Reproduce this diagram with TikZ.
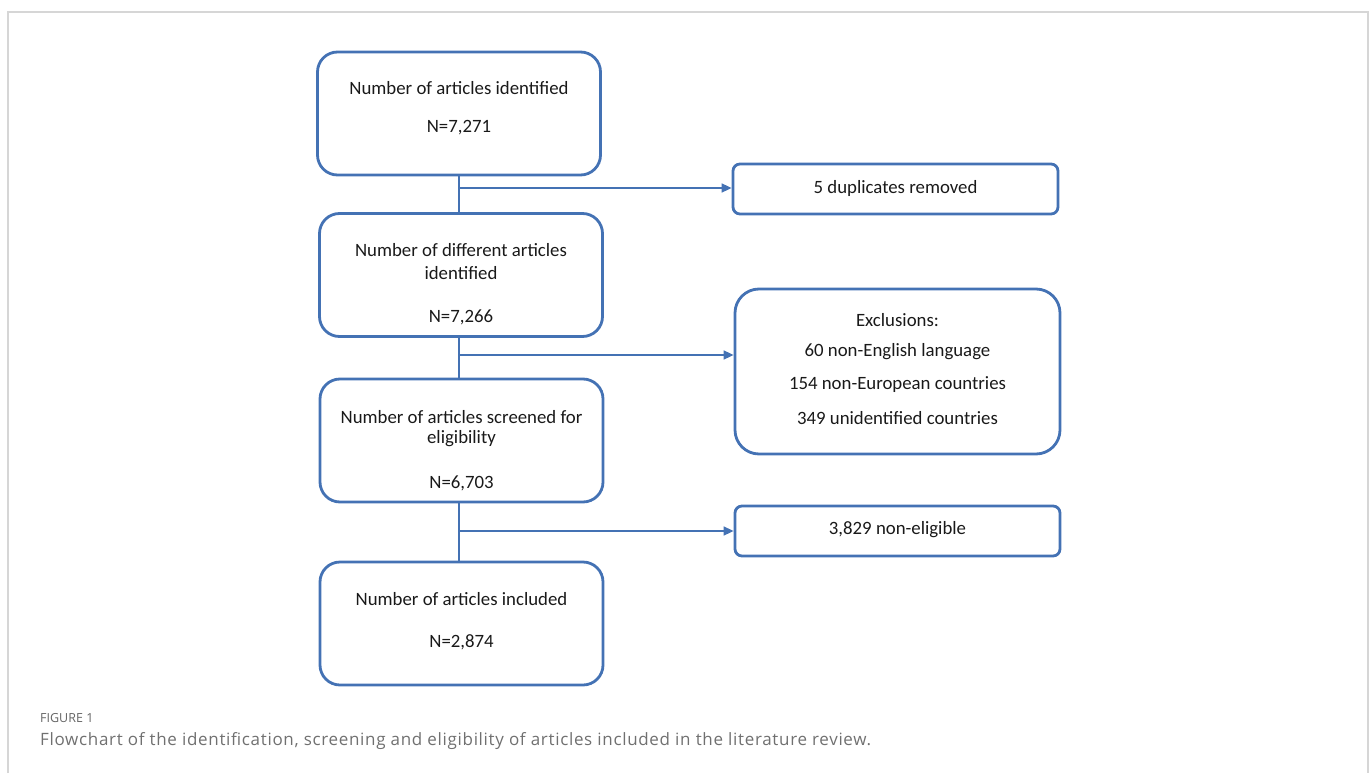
\documentclass[tikz,border=0pt]{standalone}
\usepackage{fontspec}
\setmainfont{Carlito}
\newfontfamily\capfont{Open Sans}
\newfontfamily\capfontwide[LetterSpace=4]{Open Sans}
\usetikzlibrary{arrows.meta}
\definecolor{boxblue}{HTML}{4472B4}
\definecolor{framegray}{HTML}{D6D6D6}
\definecolor{capgray}{HTML}{707070}
\tikzset{
  bigbox/.style={draw=boxblue,line width=2.8pt,rounded corners=20pt,minimum width=283pt,minimum height=123pt,inner sep=0pt},
  excbox/.style={draw=boxblue,line width=2.8pt,rounded corners=24pt,minimum width=325pt,minimum height=165pt,inner sep=0pt},
  smallbox/.style={draw=boxblue,line width=2.8pt,rounded corners=7pt,minimum width=325pt,minimum height=50pt,inner sep=0pt},
  txt/.style={font=\fontsize{18.8}{22}\selectfont,text=black!90,inner sep=0pt,anchor=center},
  conn/.style={draw=boxblue,line width=1.6pt},
  arr/.style={draw=boxblue,line width=1.6pt,-{Triangle[length=10pt,width=9pt]}},
}
\begin{document}
\begin{tikzpicture}[x=1pt,y=-1pt]
\useasboundingbox (0,0) rectangle (1372,773);
% frame
\draw[framegray,line width=1.6pt] (8,773) -- (8,12) -- (1368,12) -- (1368,773);
% boxes
\node[bigbox] (b1) at (459,113.5) {};
\node[bigbox] (b2) at (461,275) {};
\node[bigbox] (b3) at (461.5,440.5) {};
\node[bigbox] (b4) at (461.5,623.5) {};
\node[smallbox] (r1) at (895.5,189) {};
\node[excbox] (r2) at (897.5,371.5) {};
\node[smallbox] (r3) at (897.5,531) {};
% texts
\node[txt] (t1a) at (459,88) {Number of articles identified};
\node[txt] (t1b) at (459,128) {N=7,271};
\node[txt] (t2a) at (461,250) {Number of different articles};
\node[txt] (t2b) at (461,273) {identified};
\node[txt] (t2c) at (461,317) {N=7,266};
\node[txt] (t3a) at (461.5,417) {Number of articles screened for};
\node[txt] (t3b) at (461.5,439) {eligibility};
\node[txt] (t3c) at (461.5,483) {N=6,703};
\node[txt] (t4a) at (461.5,599) {Number of articles included};
\node[txt] (t4b) at (461.5,642) {N=2,874};
\node[txt] (tr1) at (895.5,188) {5 duplicates removed};
\node[txt] (tr2a) at (897.5,320) {Exclusions:};
\node[txt] (tr2b) at (897.5,352) {60 non-English language};
\node[txt] (tr2c) at (897.5,385) {154 non-European countries};
\node[txt] (tr2d) at (897.5,418) {349 unidentified countries};
\node[txt] (tr3) at (897.5,530) {3,829 non-eligible};
% connectors
\coordinate (j1) at (459,188);
\coordinate (j2) at (459,355);
\coordinate (j3) at (459,531);
\draw[conn] (b1.south -| j1) -- (b2.north -| j1);
\draw[conn] (b2.south -| j2) -- (b3.north -| j2);
\draw[conn] (b3.south -| j3) -- (b4.north -| j3);
\draw[arr] (j1) -- (r1.west |- j1);
\draw[arr] (j2) -- (r2.west |- j2);
\draw[arr] (j3) -- (r3.west |- j3);
% caption
\node[anchor=west,inner sep=0pt,font=\capfont\fontsize{12.5}{14}\selectfont,text=capgray!90!black] (fig) at (40,718) {FIGURE 1};
\node[anchor=west,inner sep=0pt,font=\capfontwide\fontsize{17}{19}\selectfont,text=capgray] (cap) at (40,741) {Flowchart of the identification, screening and eligibility of articles included in the literature review.};
\end{tikzpicture}
\end{document}
